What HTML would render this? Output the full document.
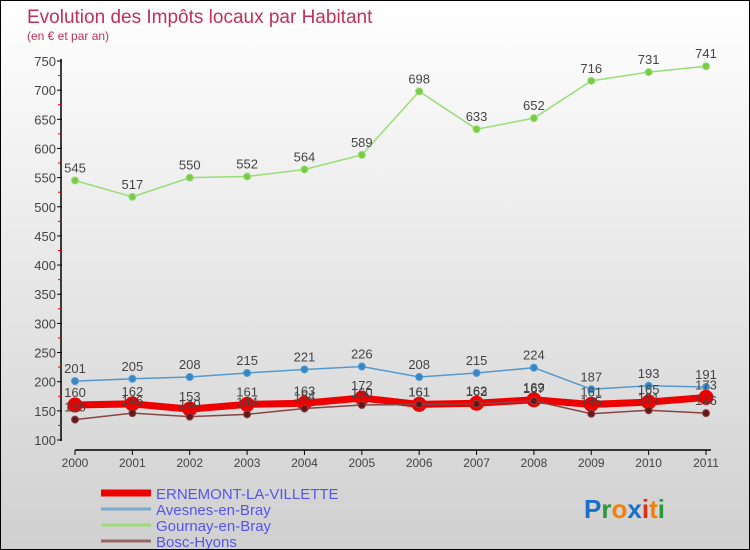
<!DOCTYPE html>
<html><head><meta charset="utf-8"><style>
html,body{margin:0;padding:0}
body{width:750px;height:550px;overflow:hidden;font-family:"Liberation Sans",sans-serif}
#wrap{position:relative;width:748px;height:548px;border:1px solid #000;background:linear-gradient(#ffffff,#d0d0d0)}
svg{position:absolute;left:0;top:0}
</style></head><body>
<div id="wrap">
<svg id="chart" width="748" height="548">
<text x="26" y="22" font-size="19" fill="#c0305a">Evolution des Impôts locaux par Habitant</text>
<text x="26" y="39" font-size="12" fill="#c0305a">(en € et par an)</text>
<g id="axes"></g><g id="series"></g><g id="legend"></g>
<text x="583" y="517" font-size="26" font-weight="bold"><tspan fill="#1a6fc8">P</tspan><tspan fill="#2a9a3a">r</tspan><tspan fill="#f08010">o</tspan><tspan fill="#1a6fc8">x</tspan><tspan fill="#e03010">i</tspan><tspan fill="#f08010">t</tspan><tspan fill="#2a9a3a">i</tspan></text>
</svg>
</div>
<script>
const years=[2000,2001,2002,2003,2004,2005,2006,2007,2008,2009,2010,2011];
const ernemont=[160,162,153,161,163,172,161,163,169,161,165,173];
const avesnes=[201,205,208,215,221,226,208,215,224,187,193,191];
const gournay=[545,517,550,552,564,589,698,633,652,716,731,741];
const bosc=[135,146,140,144,154,160,161,162,167,145,151,146];
const yTicks=[100,150,200,250,300,350,400,450,500,550,600,650,700,750];
const NS='http://www.w3.org/2000/svg';
function X(i){return 74+i*(631/11);}
function Y(v){return 439-(v-100)*(379/650);}
function mk(t,a,p){const e=document.createElementNS(NS,t);for(const k in a)e.setAttribute(k,a[k]);p.appendChild(e);return e;}
const ax=document.getElementById('axes');
let l=mk('line',{x1:60,y1:58,x2:60,y2:440,stroke:'#000','stroke-width':1.5},ax);

l=mk('line',{x1:74,y1:449,x2:710,y2:449,stroke:'#000','stroke-width':1.5},ax);

yTicks.forEach((v,i)=>{
  mk('line',{x1:56,y1:Y(v),x2:61,y2:Y(v),stroke:'#000'},ax);
  if(i<yTicks.length-1)mk('line',{x1:57,y1:Y(v+25),x2:61,y2:Y(v+25),stroke:'#e00000'},ax);
  const t=mk('text',{x:55,y:Y(v)+5,'text-anchor':'end','font-size':13,fill:'#444'},ax);
  t.textContent=v;
  
});
years.forEach((yr,i)=>{
  mk('line',{x1:X(i),y1:449,x2:X(i),y2:454,stroke:'#000'},ax);
  const t=mk('text',{x:X(i),y:466,'text-anchor':'middle','font-size':12,fill:'#444'},ax);
  t.textContent=yr;
  
});
const sg=document.getElementById('series');
function series(name,data,color,w,r,dot){
  const g=mk('g',{},sg);
  
  const p=mk('polyline',{points:data.map((v,i)=>X(i)+','+Y(v)).join(' '),fill:'none',stroke:color,'stroke-width':w},g);
  data.forEach((v,i)=>{
    const c=mk('circle',{cx:X(i),cy:Y(v),r:r,fill:dot,stroke:color,'stroke-width':1},g);
    
    const t=mk('text',{x:X(i),y:Y(v)-8,'text-anchor':'middle','font-size':13,fill:'#444'},g);
    t.textContent=v;
  });
}
series('series-gournay',gournay,'#99dd77',1.5,3.5,'#77cc44');
series('series-avesnes',avesnes,'#5599cc',1.5,3.5,'#3388cc');
series('series-ernemont',ernemont,'#ee0000',7,7,'#ee0000');
series('series-bosc',bosc,'#884444',1.5,3.5,'#661818');
const lg=document.getElementById('legend');
const items=[['ERNEMONT-LA-VILLETTE','#ee0000',7],['Avesnes-en-Bray','#77aacc',3],['Gournay-en-Bray','#99dd77',3],['Bosc-Hyons','#996666',3]];
items.forEach((it,i)=>{
  const y=492+i*16;
  const g=mk('g',{},lg);
  
  mk('line',{x1:100,y1:y,x2:150,y2:y,stroke:it[1],'stroke-width':it[2]},g);
  const t=mk('text',{x:155,y:y+6,'font-size':15,fill:'#5555ee'},g);t.textContent=it[0];
});
</script>
</body></html>
